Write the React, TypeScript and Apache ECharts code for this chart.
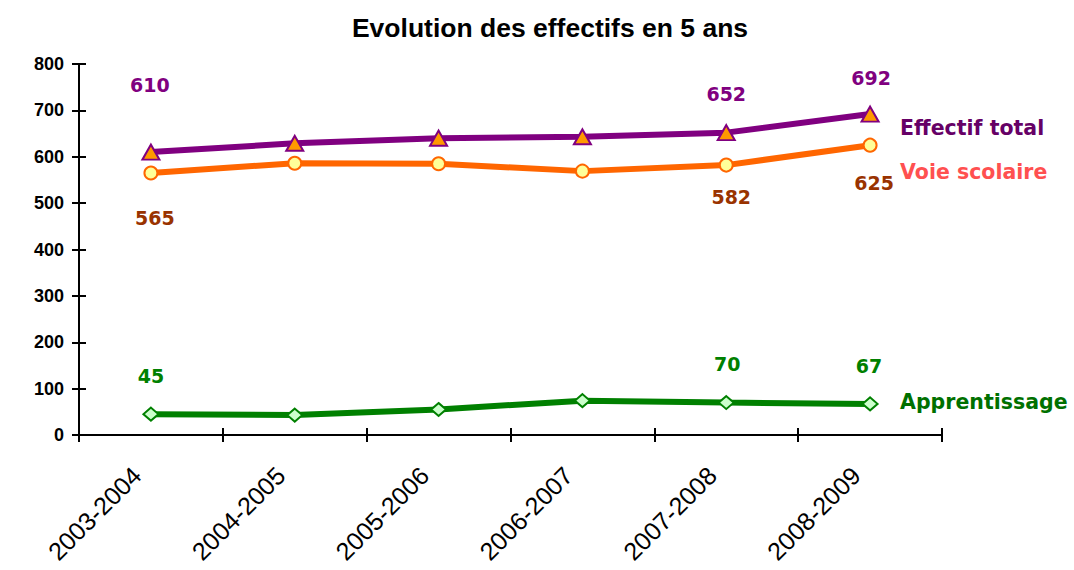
import React, { useEffect, useRef } from "react";
import * as echarts from "echarts";

const categories = ["2003-2004", "2004-2005", "2005-2006", "2006-2007", "2007-2008", "2008-2009"];
const totalValues = [610, 629, 640, 643, 652, 692];
const voieValues = [565, 586, 585, 569, 582, 625];
const apprValues = [45, 43, 55, 74, 70, 67];
const yTicks = { min: 0, max: 800, interval: 100 };

// which points show a value label, and where
const totalLabelOffsets: Record<number, [number, number]> = { 0: [-1, -67], 4: [0, -39], 5: [1, -36] };
const voieLabelOffsets: Record<number, [number, number]> = { 0: [4, 45], 4: [5, 32], 5: [4, 38] };
const apprLabelOffsets: Record<number, [number, number]> = { 0: [0, -38], 4: [1, -39], 5: [-1, -38] };

const labelFont = "DejaVu Sans";

function buildData(values: number[], offsets: Record<number, [number, number]>, color: string) {
  return values.map((v, i) =>
    offsets[i]
      ? {
          value: v,
          label: {
            show: true,
            position: "inside",
            offset: offsets[i],
            color,
            fontFamily: labelFont,
            fontWeight: "bold",
            fontSize: 19,
          },
        }
      : { value: v }
  );
}

export default function App() {
  const ref = useRef<HTMLDivElement>(null);
  useEffect(() => {
    if (!ref.current) return;
    const chart = echarts.init(ref.current, undefined, { renderer: "svg" });
    chart.setOption({
      animation: false,
      backgroundColor: "#ffffff",
      title: {
        text: "Evolution des effectifs en 5 ans",
        left: 545,
        top: 9,
        textAlign: "center",
        textStyle: { fontFamily: "Liberation Sans", fontWeight: "bold", fontSize: 26.5, color: "#000" },
      },
      grid: { left: 79, right: 132, top: 64, bottom: 135, containLabel: false, outerBoundsMode: "none" },
      xAxis: [
        {
          type: "category",
          data: categories,
          position: "bottom",
          axisLine: { show: true, lineStyle: { color: "#000", width: 2 } },
          axisTick: { show: true, length: 7, lineStyle: { color: "#000", width: 2 } },
          axisLabel: {
            rotate: 45,
            margin: 22,
            padding: [0, 20, 0, 0],
            color: "#000",
            fontFamily: "Liberation Sans",
            fontSize: 25,
          },
          splitLine: { show: false },
        },
        {
          type: "category",
          data: categories,
          position: "bottom",
          axisLine: { show: false },
          axisTick: { show: true, inside: true, length: 7, lineStyle: { color: "#000", width: 2 } },
          axisLabel: { show: false },
          splitLine: { show: false },
        },
      ],
      yAxis: [
        {
          type: "value",
          min: yTicks.min,
          max: yTicks.max,
          interval: yTicks.interval,
          position: "left",
          axisLine: { show: true, lineStyle: { color: "#000", width: 2 } },
          axisTick: { show: true, length: 7, lineStyle: { color: "#000", width: 2 } },
          axisLabel: {
            margin: 15,
            color: "#000",
            fontFamily: "Liberation Sans",
            fontWeight: "bold",
            fontSize: 18,
          },
          splitLine: { show: false },
        },
        {
          type: "value",
          min: yTicks.min,
          max: yTicks.max,
          interval: yTicks.interval,
          position: "left",
          axisLine: { show: false },
          axisTick: { show: true, inside: true, length: 7, lineStyle: { color: "#000", width: 2 } },
          axisLabel: { show: false },
          splitLine: { show: false },
        },
      ],
      series: [
        {
          name: "Apprentissage",
          type: "line",
          data: buildData(apprValues, apprLabelOffsets, "#008000"),
          lineStyle: { color: "#008000", width: 6 },
          symbol: "diamond",
          symbolSize: [15, 13],
          itemStyle: { color: "#CCFFCC", borderColor: "#008000", borderWidth: 2 },
          endLabel: {
            show: true,
            formatter: "{a}",
            offset: [22, -2],
            color: "#007000",
            fontFamily: labelFont,
            fontWeight: "bold",
            fontSize: 20.5,
          },
          z: 3,
        },
        {
          name: "Voie scolaire",
          type: "line",
          data: buildData(voieValues, voieLabelOffsets, "#993300"),
          lineStyle: { color: "#FF6600", width: 6 },
          symbol: "circle",
          symbolSize: 13,
          itemStyle: { color: "#FFFF99", borderColor: "#FF6600", borderWidth: 2 },
          endLabel: {
            show: true,
            formatter: "{a}",
            offset: [22, 27],
            color: "#FF5050",
            fontFamily: labelFont,
            fontWeight: "bold",
            fontSize: 20.5,
          },
          z: 4,
        },
        {
          name: "Effectif total",
          type: "line",
          data: buildData(totalValues, totalLabelOffsets, "#800080"),
          lineStyle: { color: "#800080", width: 6 },
          symbol: "triangle",
          symbolSize: [17, 15],
          itemStyle: { color: "#FF9900", borderColor: "#800080", borderWidth: 2 },
          endLabel: {
            show: true,
            formatter: "{a}",
            offset: [22, 14],
            color: "#660066",
            fontFamily: labelFont,
            fontWeight: "bold",
            fontSize: 20.5,
          },
          z: 5,
        },
      ],
    });
    return () => chart.dispose();
  }, []);
  return <div ref={ref} style={{ position: "fixed", left: 0, top: 0, width: 1074, height: 570 }} />;
}
